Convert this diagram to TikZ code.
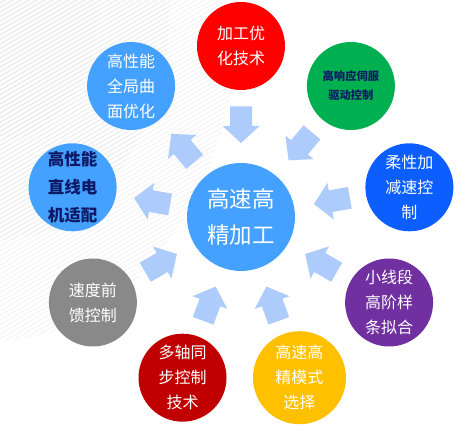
\documentclass[tikz,border=0pt]{standalone}
\usepackage{fontspec}
\setmainfont{Noto Sans CJK SC}
\usetikzlibrary{calc}
\definecolor{cred}{HTML}{FF0000}
\definecolor{cgreen}{HTML}{00AF50}
\definecolor{cblue}{HTML}{0D5EFF}
\definecolor{cpurple}{HTML}{7030A0}
\definecolor{cyellow}{HTML}{FFC000}
\definecolor{cdarkred}{HTML}{C00000}
\definecolor{cgray}{HTML}{898989}
\definecolor{clight}{HTML}{45A1FF}
\definecolor{cnavy}{HTML}{0E1A66}
\definecolor{carrow}{HTML}{ADCCFC}
\definecolor{cstripe}{HTML}{E6E6E6}
\begin{document}
\begin{tikzpicture}[x=1pt,y=1pt,
  bubble/.style={circle, fill=#1, minimum size=88pt, inner sep=0pt, align=center, text=white,
     font=\fontsize{16}{25}\selectfont},
  navytext/.style={text=cnavy, font=\bfseries\fontsize{16.5}{28}\selectfont},
  stripe/.style={draw=cstripe, line width=1.1pt, opacity=0.45},
  blockarr/.pic={\fill[carrow] (0,11) -- (19.5,11) -- (19.5,18.5) -- (36.5,0) -- (19.5,-18.5) -- (19.5,-11) -- (0,-11) -- cycle;}]
\useasboundingbox (0,0) rectangle (475,436);
% faint diagonal stripes in the top-left corner
\foreach \rx/\ry in {240/340, 170/240, 100/140}{
  \begin{scope}
    \clip (0,436) ellipse [x radius=\rx, y radius=\ry];
    \foreach \k in {-200,-195.4,...,440} \draw[stripe] (-300,\k) -- ++(30:800);
  \end{scope}
}
% centre
\node[circle, fill=clight, minimum size=108pt, inner sep=0pt, align=center, text=white,
      font=\fontsize{22.5}{36}\selectfont] (c) at (241,219) {高速高\\精加工};
% outer bubbles
\node[bubble=cred] (n1) at ($(c.center)+(90:171)$) {加工优\\化技术};
\node[bubble=cgreen, text=cnavy, font=\bfseries\fontsize{11.3}{19}\selectfont] (n2) at ($(c.center)+(50:171)$) {高响应伺服\\驱动控制};
\node[bubble=cblue] (n3) at ($(c.center)+(10:171)$) {柔性加\\减速控\\制};
\node[bubble=cpurple] (n4) at ($(c.center)+(-30:171)$) {小线段\\高阶样\\条拟合};
\node[bubble=cyellow, minimum size=93pt] (n5) at ($(c.center)+(-70:171)$) {高速高\\精模式\\选择};
\node[bubble=cdarkred] (n6) at ($(c.center)+(-110:171)$) {多轴同\\步控制\\技术};
\node[bubble=cgray] (n7) at ($(c.center)+(-150:171)$) {速度前\\馈控制};
\node[bubble=clight, navytext] (n8) at ($(c.center)+(170:171)$) {高性能\\直线电\\机适配};
\node[bubble=clight] (n9) at ($(c.center)+(130:171)$) {高性能\\全局曲\\面优化};
% block arrows
\foreach \a in {90,50,10,-30,-70,-110,-150}
  \pic[rotate=\a+180] at ($(c.center)+(\a:110.5)$) {blockarr};
\foreach \a in {130,170}
  \pic[rotate=\a] at ($(c.center)+(\a:72)$) {blockarr};
\end{tikzpicture}
\end{document}
